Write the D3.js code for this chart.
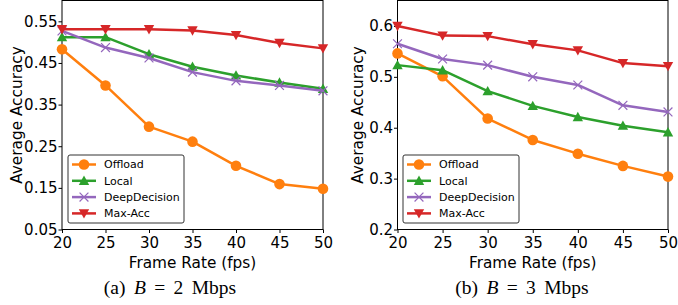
<!DOCTYPE html>
<html>
<head>
<meta charset="utf-8">
<script src="https://cdn.jsdelivr.net/npm/d3@7"></script>
<style>
  body { margin: 0; background: #fff; }
  svg { display: block; }
</style>
</head>
<body>
<div id="chart"></div>
<script>
const fps = [20, 25, 30, 35, 40, 45, 50];
const seriesNames = ["Offload", "Local", "DeepDecision", "Max-Acc"];
const colors = ["#ff7f0e", "#2ca02c", "#9467bd", "#d62728"];
const markers = ["circle", "triangleUp", "cross", "triangleDown"];

// panel (a) B = 2 Mbps
const offloadA = [0.483, 0.396, 0.297, 0.261, 0.203, 0.159, 0.148];
const localA   = [0.512, 0.512, 0.471, 0.441, 0.420, 0.403, 0.388];
const deepA    = [0.527, 0.487, 0.462, 0.428, 0.407, 0.396, 0.383];
const maxAccA  = [0.531, 0.531, 0.531, 0.528, 0.517, 0.498, 0.485];
const yTicksA  = [0.05, 0.15, 0.25, 0.35, 0.45, 0.55];

// panel (b) B = 3 Mbps
const offloadB = [0.546, 0.501, 0.418, 0.376, 0.349, 0.325, 0.304];
const localB   = [0.523, 0.513, 0.472, 0.443, 0.421, 0.404, 0.391];
const deepB    = [0.565, 0.535, 0.523, 0.500, 0.484, 0.444, 0.431];
const maxAccB  = [0.600, 0.581, 0.580, 0.564, 0.552, 0.527, 0.521];
const yTicksB  = [0.2, 0.3, 0.4, 0.5, 0.6];

const xTicks = [20, 25, 30, 35, 40, 45, 50];

const W = 678, H = 305;
const svg = d3.select('#chart').append('svg')
  .attr('width', W).attr('height', H);

const font = "'DejaVu Sans', Verdana, sans-serif";
const serif = "'Liberation Serif', 'Times New Roman', serif";

function markerPath(type) {
  const s = 5.2;
  if (type === 'triangleUp') return `M0,${-s} L${s},${s*0.8} L${-s},${s*0.8} Z`;
  if (type === 'triangleDown') return `M0,${s} L${s},${-s*0.8} L${-s},${-s*0.8} Z`;
  return `M${-s*0.85},${-s*0.85} L${s*0.85},${s*0.85} M${-s*0.85},${s*0.85} L${s*0.85},${-s*0.85}`;
}

function drawMarker(g, type, color, x, y) {
  if (type === 'circle') {
    g.append('circle').attr('cx', x).attr('cy', y).attr('r', 5.3).attr('fill', color);
  } else if (type === 'cross') {
    g.append('path').attr('transform', `translate(${x},${y})`).attr('d', markerPath(type))
      .attr('stroke', color).attr('stroke-width', 1.2).attr('fill', 'none');
  } else {
    g.append('path').attr('transform', `translate(${x},${y})`).attr('d', markerPath(type))
      .attr('fill', color);
  }
}

function panel(opts) {
  const { left, right, top, bottom, domain, yTicks, fmt, series, legendX, caption, labelX } = opts;
  const x = d3.scaleLinear().domain([20, 50]).range([left, right]);
  const y = d3.scaleLinear().domain(domain).range([bottom, top]);
  const g = svg.append('g');

  // axes
  const xAxis = g.append('g').attr('transform', `translate(0,${bottom})`)
    .call(d3.axisBottom(x).tickValues(xTicks).tickSize(3.5).tickPadding(2));
  const yAxis = g.append('g').attr('transform', `translate(${left},0)`)
    .call(d3.axisLeft(y).tickValues(yTicks).tickFormat(fmt).tickSize(3.5).tickPadding(1));
  [xAxis, yAxis].forEach(a => {
    a.select('.domain').remove();
    a.selectAll('text').style('font-family', font).style('font-size', '15px').attr('fill', '#000');
    a.selectAll('line').attr('stroke', '#000');
  });
  xAxis.selectAll('text').attr('dy', '0.85em');

  // frame
  g.append('rect').attr('x', left).attr('y', top)
    .attr('width', right - left).attr('height', bottom - top)
    .attr('fill', 'none').attr('stroke', '#000').attr('stroke-width', 1);

  // lines + markers
  const line = d3.line().x((d, i) => x(fps[i])).y(d => y(d));
  series.forEach((vals, k) => {
    g.append('path').datum(vals).attr('d', line)
      .attr('fill', 'none').attr('stroke', colors[k]).attr('stroke-width', 2.5)
      .attr('stroke-linejoin', 'round');
    vals.forEach((v, i) => drawMarker(g, markers[k], colors[k], x(fps[i]), y(v)));
  });

  // legend
  const lg = g.append('g').attr('transform', `translate(${legendX},155)`);
  lg.append('rect').attr('x', 0).attr('y', 0).attr('width', 116).attr('height', 68)
    .attr('rx', 2).attr('fill', '#fff').attr('fill-opacity', 0.8)
    .attr('stroke', '#333').attr('stroke-width', 1);
  seriesNames.forEach((name, k) => {
    const yy = 9.5 + k * 16.3;
    lg.append('line').attr('x1', 4).attr('x2', 28).attr('y1', yy).attr('y2', yy)
      .attr('stroke', colors[k]).attr('stroke-width', 2.5);
    drawMarker(lg, markers[k], colors[k], 16, yy);
    lg.append('text').attr('x', 36).attr('y', yy).attr('dy', '0.35em')
      .style('font-family', font).style('font-size', '11px').text(name);
  });

  // axis titles
  g.append('text').attr('x', (left + right) / 2).attr('y', 268)
    .attr('text-anchor', 'middle').style('font-family', font).style('font-size', '15.3px')
    .text('Frame Rate (fps)');
  g.append('text').attr('transform', `translate(${labelX},${(top + bottom) / 2}) rotate(-90)`)
    .attr('text-anchor', 'middle').attr('dy', '0.35em')
    .style('font-family', font).style('font-size', '15.3px').text('Average Accuracy');

  // caption
  const cap = g.append('text').attr('x', caption.x).attr('y', 294)
    .attr('text-anchor', 'middle').style('font-family', serif).style('font-size', '19.5px')
    .style('word-spacing', '3.5px');
  cap.append('tspan').text(caption.tag + ' ');
  cap.append('tspan').attr('font-style', 'italic').text('B');
  cap.append('tspan').text(' = ' + caption.val + '  Mbps');
}

panel({
  left: 62, right: 323, top: 0.5, bottom: 229.5,
  domain: [0.05, 0.6], yTicks: yTicksA, fmt: d3.format('.2f'),
  series: [offloadA, localA, deepA, maxAccA],
  legendX: 68, labelX: 17,
  caption: { x: 170, tag: '(a)', val: '2' }
});

panel({
  left: 397.5, right: 668, top: 0.5, bottom: 229.5,
  domain: [0.2, 0.65], yTicks: yTicksB, fmt: d3.format('.1f'),
  series: [offloadB, localB, deepB, maxAccB],
  legendX: 403, labelX: 358,
  caption: { x: 522, tag: '(b)', val: '3' }
});
</script>
</body>
</html>
